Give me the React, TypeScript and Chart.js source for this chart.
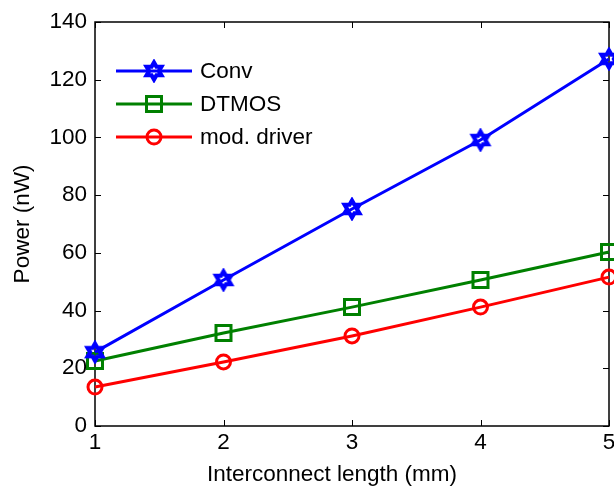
import React, { useEffect, useRef } from "react";
import { Chart, registerables } from "chart.js";

Chart.register(...registerables);

const xValues = [1, 2, 3, 4, 5];
const convPower = [25.6, 50.6, 75.2, 99.1, 127.2];
const dtmosPower = [22.5, 32.2, 41.2, 50.6, 60.3];
const modDriverPower = [13.5, 22.2, 31.2, 41.2, 51.6];
const seriesNames = ["Conv", "DTMOS", "mod. driver"];
const yTicks = [0, 20, 40, 60, 80, 100, 120, 140];
const xLabel = "Interconnect length (mm)";
const yLabel = "Power (nW)";

const FONT = "'Liberation Sans', Arial, sans-serif";
const FS = 22.5;

function makeHexagram(color: string): HTMLCanvasElement {
  const c = document.createElement("canvas");
  const s = 24;
  c.width = s;
  c.height = s;
  const ctx = c.getContext("2d")!;
  const cx = s / 2, cy = s / 2;
  const R = 8.5, r = R / Math.sqrt(3);
  ctx.beginPath();
  for (let i = 0; i < 12; i++) {
    const ang = -Math.PI / 2 + (i * Math.PI) / 6;
    const rad = i % 2 === 0 ? R : r;
    const px = cx + rad * Math.cos(ang);
    const py = cy + rad * Math.sin(ang);
    if (i === 0) ctx.moveTo(px, py);
    else ctx.lineTo(px, py);
  }
  ctx.closePath();
  ctx.strokeStyle = color;
  ctx.lineWidth = 4.2;
  ctx.lineJoin = "miter";
  ctx.stroke();
  return c;
}

export default function App() {
  const ref = useRef<HTMLCanvasElement>(null);

  useEffect(() => {
    if (!ref.current) return;
    const star = makeHexagram("#0000ff");

    const boxPlugin = {
      id: "boxPlugin",
      beforeDatasetsDraw(chart: any) {
        const { ctx, chartArea: a, scales } = chart;
        ctx.save();
        ctx.strokeStyle = "#000";
        ctx.lineWidth = 1.5;
        ctx.strokeRect(a.left, a.top, a.right - a.left, a.bottom - a.top);
        ctx.lineWidth = 1;
        const tl = 6;
        ctx.beginPath();
        for (const v of xValues) {
          const px = Math.round(scales.x.getPixelForValue(v)) + 0.5;
          ctx.moveTo(px, a.bottom);
          ctx.lineTo(px, a.bottom - tl);
          ctx.moveTo(px, a.top);
          ctx.lineTo(px, a.top + tl);
        }
        for (const v of yTicks) {
          const py = Math.round(scales.y.getPixelForValue(v)) + 0.5;
          ctx.moveTo(a.left, py);
          ctx.lineTo(a.left + tl, py);
          ctx.moveTo(a.right, py);
          ctx.lineTo(a.right - tl, py);
        }
        ctx.stroke();
        ctx.restore();
      },
      afterDraw(chart: any) {
        const { ctx, chartArea: a } = chart;
        const ds = chart.data.datasets;
        const rows = [49, 82, 115];
        ctx.save();
        ds.forEach((d: any, i: number) => {
          const y = a.top + rows[i];
          ctx.strokeStyle = d.borderColor;
          ctx.lineWidth = d.borderWidth;
          ctx.beginPath();
          ctx.moveTo(a.left + 21, y);
          ctx.lineTo(a.left + 97, y);
          ctx.stroke();
          const mx = a.left + 59;
          if (d.pointStyle instanceof HTMLCanvasElement) {
            const img = d.pointStyle;
            ctx.drawImage(img, mx - img.width / 2, y - img.height / 2);
          } else if (d.pointStyle === "rect") {
            const h = Math.SQRT1_2 * d.pointRadius;
            ctx.lineWidth = d.pointBorderWidth;
            ctx.strokeStyle = d.pointBorderColor;
            ctx.strokeRect(mx - h, y - h, 2 * h, 2 * h);
          } else {
            ctx.lineWidth = d.pointBorderWidth;
            ctx.strokeStyle = d.pointBorderColor;
            ctx.beginPath();
            ctx.arc(mx, y, d.pointRadius, 0, Math.PI * 2);
            ctx.stroke();
          }
          ctx.fillStyle = "#000";
          ctx.font = `${FS}px ${FONT}`;
          ctx.textBaseline = "middle";
          ctx.textAlign = "left";
          ctx.fillText(d.label, a.left + 105, y + 1);
        });
        // x-axis title (offset left of the axis centre, as in the reference)
        ctx.fillStyle = "#000";
        ctx.font = `${FS}px ${FONT}`;
        ctx.textAlign = "center";
        ctx.textBaseline = "middle";
        ctx.fillText(xLabel, a.left + (a.right - a.left) * 0.461, a.bottom + 49);
        ctx.restore();
      },
    };

    const chart = new Chart(ref.current, {
      type: "line",
      data: {
        datasets: [
          {
            label: seriesNames[0],
            data: xValues.map((x, i) => ({ x, y: convPower[i] })),
            borderColor: "#0000ff",
            borderWidth: 3,
            pointStyle: star as any,
            pointRadius: 9,
            pointBorderColor: "#0000ff",
            pointBackgroundColor: "rgba(0,0,0,0)",
            pointBorderWidth: 3,
            clip: false as any,
          },
          {
            label: seriesNames[1],
            data: xValues.map((x, i) => ({ x, y: dtmosPower[i] })),
            borderColor: "#008000",
            borderWidth: 3,
            pointStyle: "rect",
            pointRadius: 10.6,
            pointBorderColor: "#008000",
            pointBackgroundColor: "rgba(0,0,0,0)",
            pointBorderWidth: 3,
            clip: false as any,
          },
          {
            label: seriesNames[2],
            data: xValues.map((x, i) => ({ x, y: modDriverPower[i] })),
            borderColor: "#ff0000",
            borderWidth: 3,
            pointStyle: "circle",
            pointRadius: 7,
            pointBorderColor: "#ff0000",
            pointBackgroundColor: "rgba(0,0,0,0)",
            pointBorderWidth: 3,
            clip: false as any,
          },
        ],
      },
      options: {
        animation: false,
        responsive: true,
        maintainAspectRatio: false,
        layout: { padding: { left: 0, top: 22, right: 31, bottom: 0 } },
        plugins: {
          legend: { display: false },
          tooltip: { enabled: false },
        },
        elements: { line: { tension: 0 } },
        scales: {
          x: {
            type: "linear",
            min: 1,
            max: 5,
            grid: { display: false, drawTicks: false },
            border: { display: false },
            afterBuildTicks: (s: any) => {
              s.ticks = xValues.map((v) => ({ value: v }));
            },
            afterFit: (s: any) => {
              s.height = 65;
              s.paddingLeft = 0;
              s.paddingRight = 0;
            },
            ticks: {
              color: "#000",
              font: { family: FONT, size: FS },
              padding: 3,
              maxRotation: 0,
              autoSkip: false,
            },
            title: { display: false },
          },
          y: {
            type: "linear",
            min: 0,
            max: 140,
            grid: { display: false, drawTicks: false },
            border: { display: false },
            afterBuildTicks: (s: any) => {
              s.ticks = yTicks.map((v) => ({ value: v }));
            },
            afterFit: (s: any) => {
              s.width = 95;
              s.paddingTop = 0;
              s.paddingBottom = 0;
            },
            ticks: {
              color: "#000",
              font: { family: FONT, size: FS },
              padding: 8,
              autoSkip: false,
            },
            title: {
              display: true,
              text: yLabel,
              color: "#000",
              font: { family: FONT, size: FS },
              padding: { top: 9, bottom: 0 },
            },
          },
        },
      },
      plugins: [boxPlugin],
    });
    return () => chart.destroy();
  }, []);

  return (
    <div style={{ position: "fixed", left: 0, top: 0, width: 614, height: 491, overflow: "hidden", background: "#fff" }}>
      <div style={{ position: "relative", width: 640, height: 491 }}>
        <canvas ref={ref} />
      </div>
    </div>
  );
}
